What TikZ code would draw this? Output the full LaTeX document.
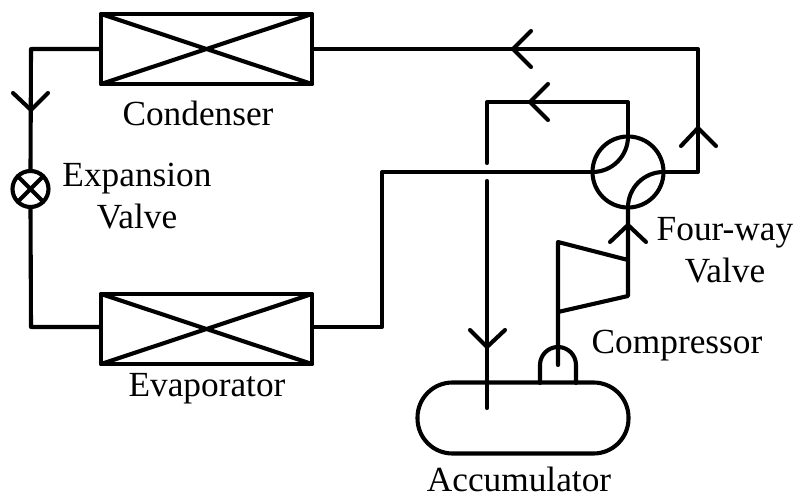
\documentclass[tikz,border=0pt]{standalone}
\usepackage{fontspec}
\setmainfont{Liberation Serif}
\begin{document}
\begin{tikzpicture}[x=1bp,y=-1bp,
  pipe/.style={line width=4.1bp,line join=round,line cap=round},
  hx/.style={draw,line width=4.1bp,rectangle,minimum width=211bp,minimum height=70bp,inner sep=0pt,outer sep=0pt,line join=round},
  lbl/.style={font=\fontsize{35.3bp}{42bp}\selectfont,inner sep=0pt,align=center,anchor=center},
  lblb/.style={lbl,anchor=base},
  roundvalve/.style={draw,line width=4.1bp,circle,inner sep=0pt,outer sep=0pt}]
\useasboundingbox (0,0) rectangle (795,494);
% equipment
\node[hx] (cond) at (206.5,49) {};
\node[hx] (evap) at (206.5,329) {};
\draw[pipe] (cond.north west) -- (cond.south east) (cond.south west) -- (cond.north east);
\draw[pipe] (evap.north west) -- (evap.south east) (evap.south west) -- (evap.north east);
\node[roundvalve,minimum size=36bp] (exp) at (30.5,189) {};
\draw[pipe] (exp.north west) -- (exp.south east) (exp.south west) -- (exp.north east);
\node[roundvalve,minimum size=71bp] (four) at (628,172) {};
\draw[pipe] (four.north) arc[start angle=0,end angle=90,x radius=35.5bp,y radius=-35.5bp];
\draw[pipe] (four.south) arc[start angle=180,end angle=90,x radius=35.5bp,y radius=35.5bp];
% accumulator
\node[draw,line width=4.1bp,rectangle,rounded corners=35bp,minimum width=211bp,minimum height=71bp,inner sep=0pt,outer sep=0pt] (acc) at (523,418) {};
% dome
\coordinate (domeL) at (540,383);
\coordinate (domeR) at (576,383);
\draw[pipe] (domeL) -- (540,365) arc[start angle=180,end angle=0,x radius=18bp,y radius=18bp] -- (domeR);
% compressor
\coordinate (cTL) at (558,242);
\coordinate (cBL) at (558,312);
\coordinate (cTR) at (628,260);
\coordinate (cBR) at (628,296);
\draw[pipe] (558,365) -- (cBL) -- (cTL) -- (cTR) (cBL) -- (cBR) -- (cTR) -- (four.south);
% pipes
\coordinate (c1) at (31,49);
\coordinate (c2) at (31,327);
\coordinate (c3) at (382,327);
\coordinate (c4) at (382,172);
\coordinate (c5) at (698,172);
\coordinate (c6) at (698,49);
\coordinate (c7) at (628,102);
\coordinate (c8) at (487,102);
\coordinate (gapA) at (487,163);
\coordinate (gapB) at (487,181);
\coordinate (c9) at (487,408);
\draw[pipe] (cond.west) -- (c1) -- (exp.north);
\draw[pipe] (exp.south) -- (c2) -- (evap.west |- c2);
\draw[pipe] (evap.east |- c3) -- (c3) -- (c4) -- (four.west);
\draw[pipe] (four.east) -- (c5) -- (c6) -- (cond.east);
\draw[pipe] (four.north) -- (c7) -- (c8) -- (gapA);
\draw[pipe] (gapB) -- (c9);
% flow arrows
\coordinate (a1) at (31,110); \draw[pipe] (13,93) -- (a1) -- (48,93);
\coordinate (a2) at (513,49); \draw[pipe] (531,31) -- (a2) -- (531,67);
\coordinate (a3) at (530,102); \draw[pipe] (548,84) -- (a3) -- (548,120);
\coordinate (a4) at (698,128); \draw[pipe] (681,146) -- (a4) -- (716,146);
\coordinate (a5) at (628,225); \draw[pipe] (610,242) -- (a5) -- (646,242);
\coordinate (a6) at (487,347); \draw[pipe] (470,330) -- (a6) -- (505,330);
% labels
\node[lblb] (t1) at (198,126) {Condenser};
\node[lbl] (t2) at (137,196) {Expansion\\Valve};
\node[lblb] (t3) at (207,396) {Evaporator};
\node[lbl] (t4) at (725,250) {Four-way\\Valve};
\node[lblb] (t5) at (677,353) {Compressor};
\node[lblb] (t6) at (519,491.5) {Accumulator};
\end{tikzpicture}
\end{document}
